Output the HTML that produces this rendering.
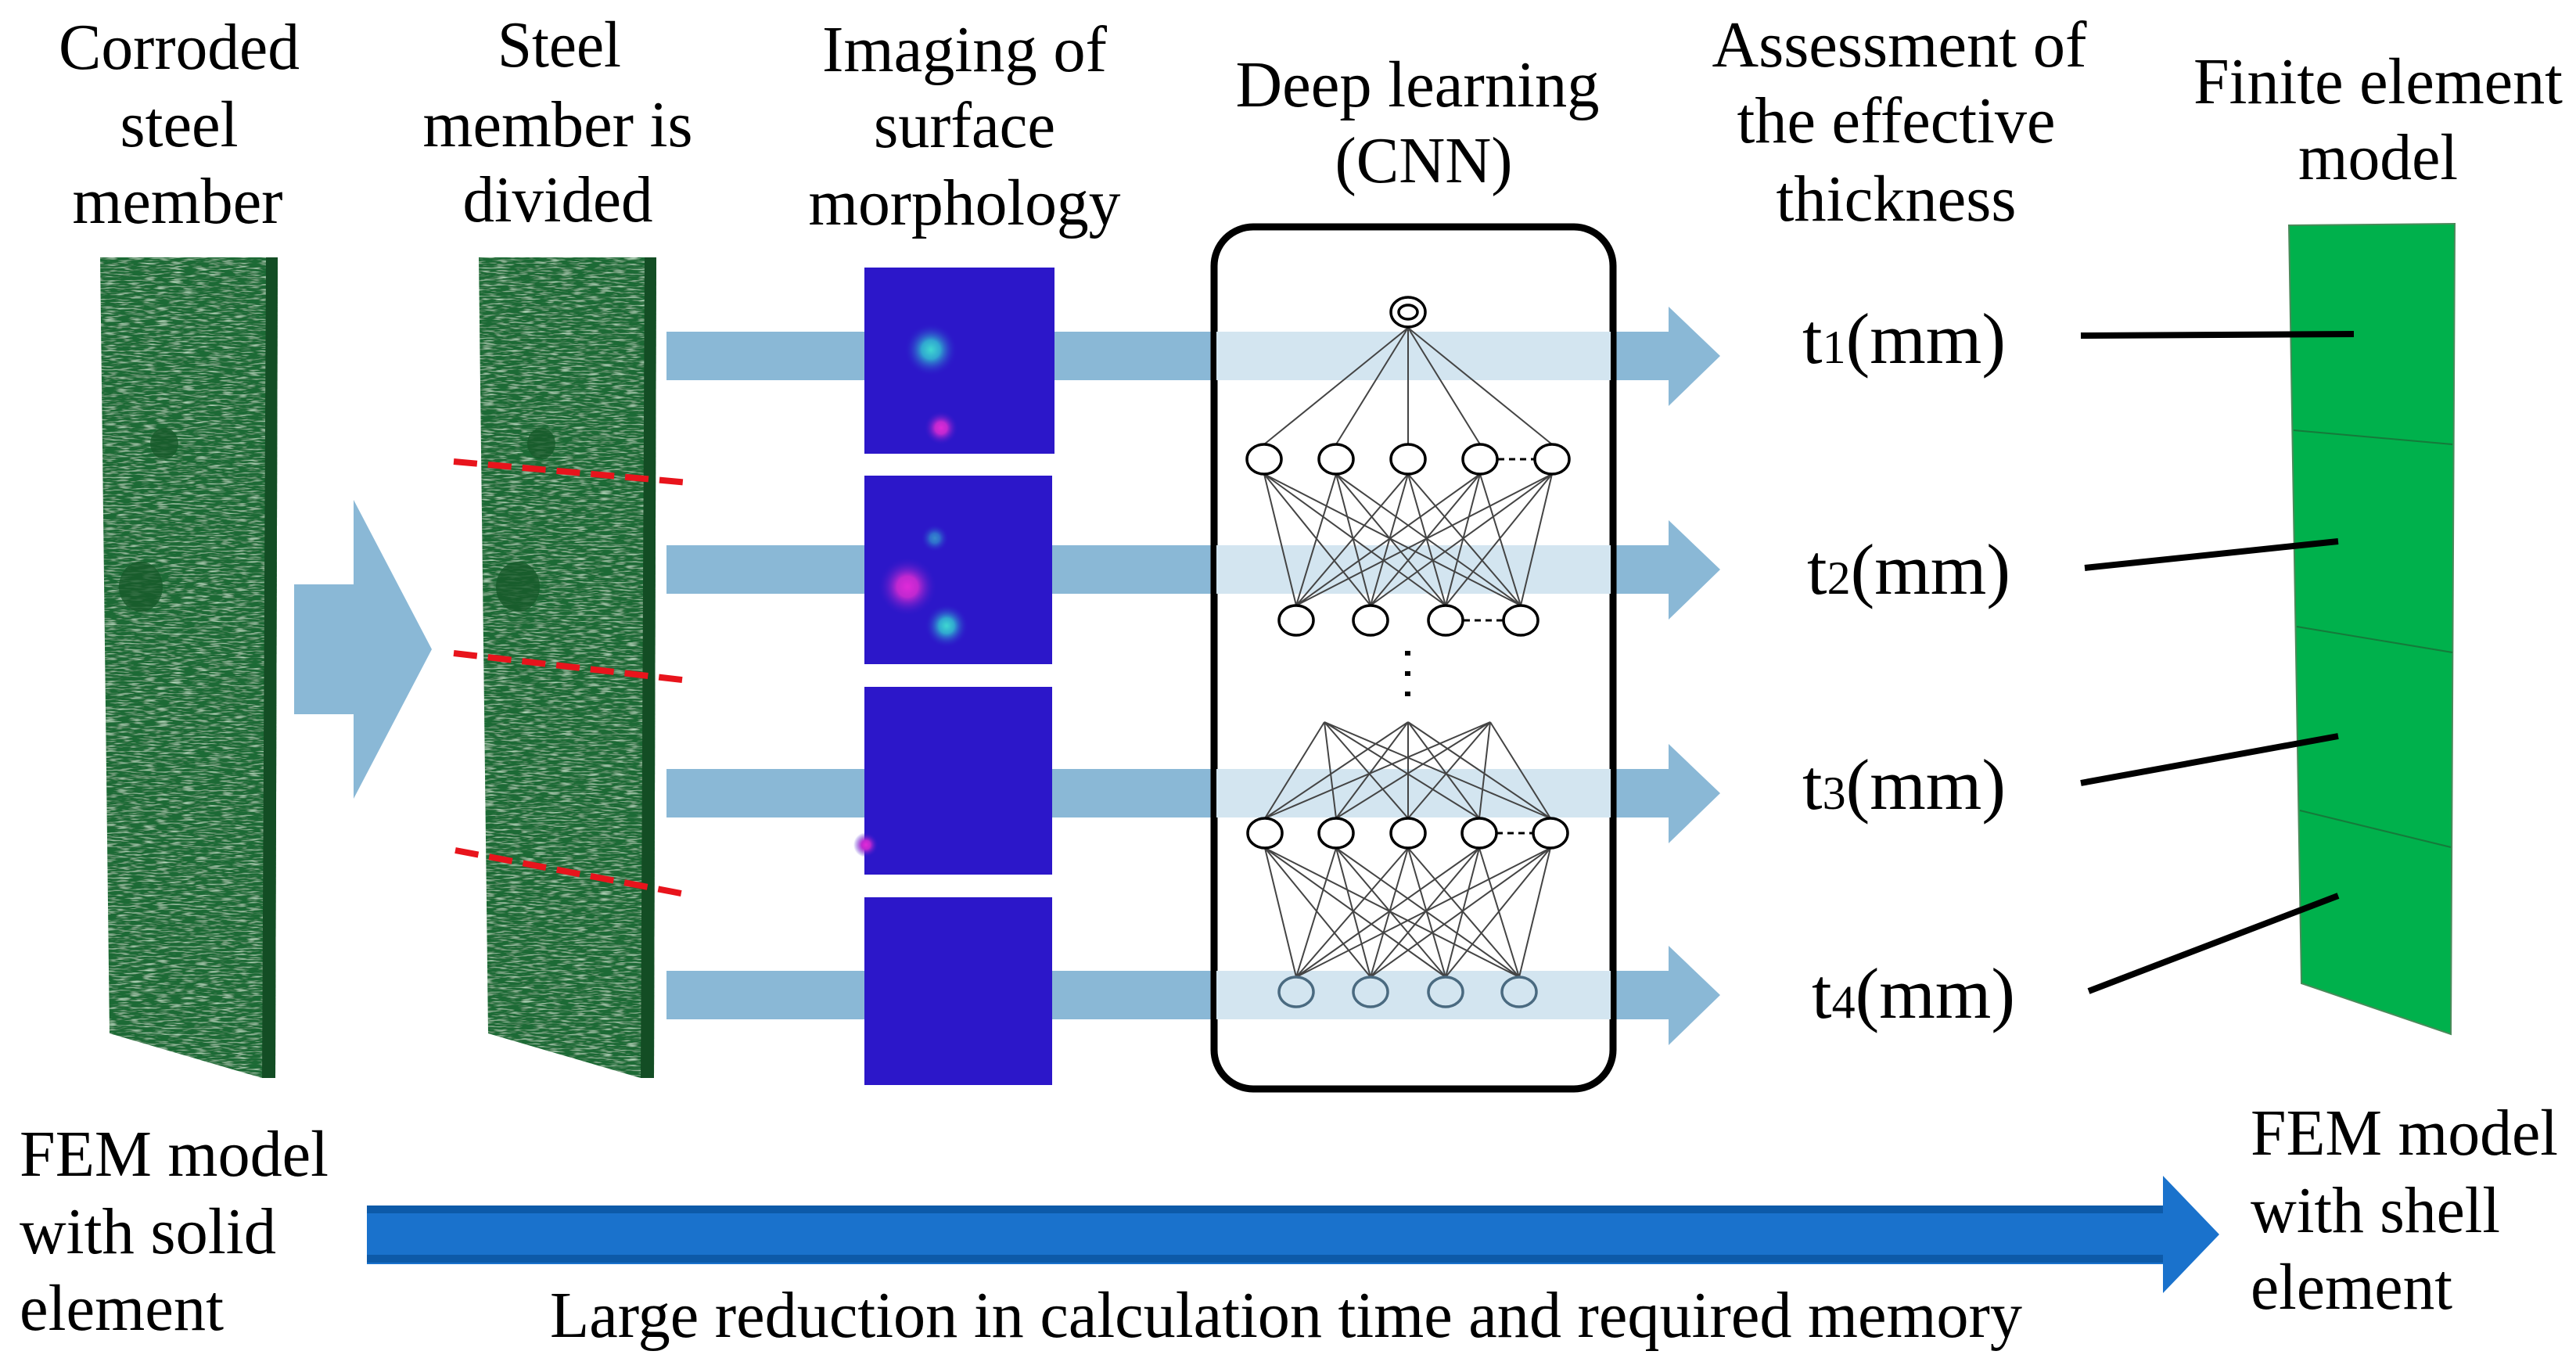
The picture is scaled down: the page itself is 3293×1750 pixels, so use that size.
<!DOCTYPE html>
<html><head><meta charset="utf-8"><style>
html,body{margin:0;padding:0;background:#fff;}
svg{display:block;}
</style></head><body>
<svg width="3293" height="1750" viewBox="0 0 3293 1750" xmlns="http://www.w3.org/2000/svg" font-family="'Liberation Serif', 'Times New Roman', 'DejaVu Serif', serif">
<defs>
<filter id="tex" x="0" y="0" width="100%" height="100%">
<feTurbulence type="fractalNoise" baseFrequency="0.06 0.5" numOctaves="2" seed="3" result="n"/>
<feColorMatrix in="n" type="matrix" values="0 0 0 0 0.55  0 0 0 0 0.8  0 0 0 0 0.6  0 0 0 2.2 -1.1" result="c"/>
<feComposite in="c" in2="SourceGraphic" operator="in" result="s"/>
<feMerge><feMergeNode in="SourceGraphic"/><feMergeNode in="s"/></feMerge>
</filter>
<radialGradient id="cy"><stop offset="0" stop-color="#3fd8d0"/><stop offset="0.35" stop-color="#30a8d0"/><stop offset="1" stop-color="#2c17c9" stop-opacity="0"/></radialGradient>
<radialGradient id="mg"><stop offset="0" stop-color="#e02ad8"/><stop offset="0.35" stop-color="#c028d0"/><stop offset="1" stop-color="#2c17c9" stop-opacity="0"/></radialGradient>
</defs>

<g font-size="84" text-anchor="middle">
<text x="229" y="88" textLength="308" lengthAdjust="spacingAndGlyphs">Corroded</text>
<text x="229" y="187" textLength="151" lengthAdjust="spacingAndGlyphs">steel</text>
<text x="227" y="285" textLength="269" lengthAdjust="spacingAndGlyphs">member</text>
<text x="715" y="85" textLength="158" lengthAdjust="spacingAndGlyphs">Steel</text>
<text x="713" y="187" textLength="345" lengthAdjust="spacingAndGlyphs">member is</text>
<text x="713" y="283" textLength="243" lengthAdjust="spacingAndGlyphs">divided</text>
<text x="1233" y="91" textLength="364" lengthAdjust="spacingAndGlyphs">Imaging of</text>
<text x="1233" y="188" textLength="232" lengthAdjust="spacingAndGlyphs">surface</text>
<text x="1233" y="287" textLength="399" lengthAdjust="spacingAndGlyphs">morphology</text>
<text x="1812" y="136" textLength="465" lengthAdjust="spacingAndGlyphs">Deep learning</text>
<text x="1820" y="233" textLength="227" lengthAdjust="spacingAndGlyphs">(CNN)</text>
<text x="2428" y="85" textLength="479" lengthAdjust="spacingAndGlyphs">Assessment of</text>
<text x="2424" y="182" textLength="407" lengthAdjust="spacingAndGlyphs">the effective</text>
<text x="2424" y="282" textLength="307" lengthAdjust="spacingAndGlyphs">thickness</text>
<text x="3040" y="132" textLength="472" lengthAdjust="spacingAndGlyphs">Finite element</text>
<text x="3040" y="229" textLength="204" lengthAdjust="spacingAndGlyphs">model</text>
</g>

<g>
<polygon points="128,329 355,329 352,1378 335,1378 140,1321" fill="#1e6a34" filter="url(#tex)"/>
<polygon points="340,329 355,329 352,1378 335,1378" fill="#134d24"/>
<ellipse cx="210" cy="567" rx="18" ry="20" fill="#185a2b" opacity="0.8"/>
<ellipse cx="180" cy="750" rx="28" ry="32" fill="#185a2b" opacity="0.8"/>
<polygon points="612,329 839,329 836,1378 819,1378 624,1321" fill="#1e6a34" filter="url(#tex)"/>
<polygon points="824,329 839,329 836,1378 819,1378" fill="#134d24"/>
<ellipse cx="692" cy="567" rx="18" ry="20" fill="#185a2b" opacity="0.8"/>
<ellipse cx="662" cy="750" rx="28" ry="32" fill="#185a2b" opacity="0.8"/>
</g>
<g stroke="#e8141c" stroke-width="8" stroke-dasharray="30,14">
<line x1="580" y1="590" x2="880" y2="617"/>
<line x1="580" y1="835" x2="880" y2="870"/>
<line x1="582" y1="1087" x2="876" y2="1143"/>
</g>
<polygon points="376,747 452,747 452,639 552,830 452,1021 452,913 376,913" fill="#8ab8d6"/>

<g fill="#8ab8d6">
<rect x="852" y="424" width="700" height="62"/>
<rect x="852" y="697" width="700" height="62"/>
<rect x="852" y="983" width="700" height="62"/>
<rect x="852" y="1241" width="700" height="62"/>
<rect x="2062" y="424" width="72" height="62"/><polygon points="2133,392 2199,455 2133,519"/>
<rect x="2062" y="697" width="72" height="62"/><polygon points="2133,665 2199,728 2133,792"/>
<rect x="2062" y="983" width="72" height="62"/><polygon points="2133,951 2199,1014 2133,1078"/>
<rect x="2062" y="1241" width="72" height="62"/><polygon points="2133,1209 2199,1272 2133,1336"/>
</g>
<g>
<rect x="1105" y="342" width="243" height="238" fill="#2c17c9"/>
<circle cx="1190" cy="447" r="34" fill="url(#cy)"/>
<circle cx="1203" cy="547" r="22" fill="url(#mg)"/>
<rect x="1105" y="608" width="240" height="241" fill="#2c17c9"/>
<circle cx="1195" cy="688" r="18" fill="url(#cy)" opacity="0.6"/>
<circle cx="1160" cy="750" r="38" fill="url(#mg)"/>
<circle cx="1210" cy="800" r="28" fill="url(#cy)"/>
<rect x="1105" y="878" width="240" height="240" fill="#2c17c9"/>
<circle cx="1107" cy="1080" r="16" fill="url(#mg)"/>
<rect x="1105" y="1147" width="240" height="240" fill="#2c17c9"/>
</g>

<rect x="1552" y="290" width="510" height="1102" rx="50" fill="#fff" stroke="#000" stroke-width="9"/>
<g fill="#d3e5f0">
<rect x="1555" y="424" width="504" height="62"/>
<rect x="1555" y="697" width="504" height="62"/>
<rect x="1555" y="983" width="504" height="62"/>
<rect x="1555" y="1241" width="504" height="62"/>
</g>
<g stroke="#444" stroke-width="2" fill="none">
<path d="M1800 419 L1616 568 M1800 419 L1708 568 M1800 419 L1800 568 M1800 419 L1892 568 M1800 419 L1984 568"/>
<path d="M1616 606 L1657 774 M1616 606 L1752 774 M1616 606 L1848 774 M1616 606 L1944 774
M1708 606 L1657 774 M1708 606 L1752 774 M1708 606 L1848 774 M1708 606 L1944 774
M1800 606 L1657 774 M1800 606 L1752 774 M1800 606 L1848 774 M1800 606 L1944 774
M1892 606 L1657 774 M1892 606 L1752 774 M1892 606 L1848 774 M1892 606 L1944 774
M1984 606 L1657 774 M1984 606 L1752 774 M1984 606 L1848 774 M1984 606 L1944 774"/>
<path d="M1693 923 L1617 1046 M1693 923 L1708 1046 M1693 923 L1800 1046 M1693 923 L1891 1046 M1693 923 L1982 1046
M1800 923 L1617 1046 M1800 923 L1708 1046 M1800 923 L1800 1046 M1800 923 L1891 1046 M1800 923 L1982 1046
M1905 923 L1617 1046 M1905 923 L1708 1046 M1905 923 L1800 1046 M1905 923 L1891 1046 M1905 923 L1982 1046"/>
<path d="M1617 1084 L1657 1249 M1617 1084 L1752 1249 M1617 1084 L1848 1249 M1617 1084 L1942 1249
M1708 1084 L1657 1249 M1708 1084 L1752 1249 M1708 1084 L1848 1249 M1708 1084 L1942 1249
M1800 1084 L1657 1249 M1800 1084 L1752 1249 M1800 1084 L1848 1249 M1800 1084 L1942 1249
M1891 1084 L1657 1249 M1891 1084 L1752 1249 M1891 1084 L1848 1249 M1891 1084 L1942 1249
M1982 1084 L1657 1249 M1982 1084 L1752 1249 M1982 1084 L1848 1249 M1982 1084 L1942 1249"/>
</g>
<g stroke="#000" stroke-width="3.5" fill="#fff">
<ellipse cx="1800" cy="399" rx="22" ry="19"/>
<ellipse cx="1800" cy="399" rx="12" ry="9"/>
<ellipse cx="1616" cy="587" rx="22" ry="19"/><ellipse cx="1708" cy="587" rx="22" ry="19"/><ellipse cx="1800" cy="587" rx="22" ry="19"/><ellipse cx="1892" cy="587" rx="22" ry="19"/><ellipse cx="1984" cy="587" rx="22" ry="19"/>
<ellipse cx="1657" cy="793" rx="22" ry="19"/><ellipse cx="1752" cy="793" rx="22" ry="19"/><ellipse cx="1848" cy="793" rx="22" ry="19"/><ellipse cx="1944" cy="793" rx="22" ry="19"/>
<ellipse cx="1617" cy="1065" rx="22" ry="19"/><ellipse cx="1708" cy="1065" rx="22" ry="19"/><ellipse cx="1800" cy="1065" rx="22" ry="19"/><ellipse cx="1891" cy="1065" rx="22" ry="19"/><ellipse cx="1982" cy="1065" rx="22" ry="19"/>
</g>
<g stroke="#4a6a80" stroke-width="3.5" fill="none">
<ellipse cx="1657" cy="1268" rx="22" ry="19"/><ellipse cx="1752" cy="1268" rx="22" ry="19"/><ellipse cx="1848" cy="1268" rx="22" ry="19"/><ellipse cx="1942" cy="1268" rx="22" ry="19"/>
</g>
<g stroke="#000" stroke-width="3" stroke-dasharray="8,6">
<line x1="1915" y1="587" x2="1961" y2="587"/>
<line x1="1871" y1="793" x2="1921" y2="793"/>
<line x1="1913" y1="1065" x2="1959" y2="1065"/>
</g>
<g fill="#000">
<rect x="1796" y="832" width="7" height="6"/><rect x="1796" y="858" width="7" height="6"/><rect x="1796" y="884" width="7" height="6"/>
</g>

<g font-size="92">
<text x="2304" y="464">t<tspan font-size="60">1</tspan>(mm)</text>
<text x="2310" y="759">t<tspan font-size="60">2</tspan>(mm)</text>
<text x="2304" y="1034">t<tspan font-size="60">3</tspan>(mm)</text>
<text x="2316" y="1301">t<tspan font-size="60">4</tspan>(mm)</text>
</g>

<polygon points="2926,288 3138,286 3133,1322 2942,1257" fill="#00b14c" stroke="#4a8a5a" stroke-width="2"/>
<g stroke="#157a3a" stroke-width="2">
<line x1="2932" y1="550" x2="3135" y2="568"/>
<line x1="2936" y1="801" x2="3135" y2="834"/>
<line x1="2940" y1="1036" x2="3133" y2="1083"/>
</g>
<g stroke="#000" stroke-width="8">
<line x1="2660" y1="429" x2="3009" y2="427"/>
<line x1="2665" y1="726" x2="2989" y2="692"/>
<line x1="2660" y1="1001" x2="2989" y2="941"/>
<line x1="2670" y1="1267" x2="2989" y2="1145"/>
</g>

<polygon points="469,1541 2765,1541 2765,1503 2837,1578 2765,1653 2765,1616 469,1616" fill="#1a72cc"/>
<rect x="469" y="1541" width="2296" height="10" fill="#0d5aa8"/>
<rect x="469" y="1604" width="2296" height="10" fill="#0d5aa8"/>
<g font-size="84">
<text x="25" y="1503" textLength="395" lengthAdjust="spacingAndGlyphs">FEM model</text>
<text x="25" y="1602" textLength="328" lengthAdjust="spacingAndGlyphs">with solid</text>
<text x="25" y="1700" textLength="261" lengthAdjust="spacingAndGlyphs">element</text>
<text x="2877" y="1476" textLength="393" lengthAdjust="spacingAndGlyphs">FEM model</text>
<text x="2877" y="1575" textLength="319" lengthAdjust="spacingAndGlyphs">with shell</text>
<text x="2877" y="1673" textLength="258" lengthAdjust="spacingAndGlyphs">element</text>
<text x="703" y="1709" textLength="1882" lengthAdjust="spacingAndGlyphs">Large reduction in calculation time and required memory</text>
</g>
</svg>
</body></html>
